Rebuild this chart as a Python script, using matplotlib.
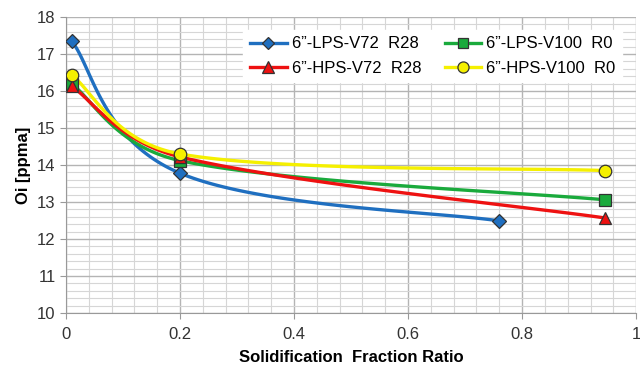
import numpy as np
import matplotlib.pyplot as plt
from matplotlib.ticker import MultipleLocator

plt.rcParams['font.family'] = ['Liberation Sans', 'DejaVu Sans']

# Measured points (solidification fraction ratio vs Oi)
lps72_x = [0.01, 0.2, 0.76]
lps72_y = [17.35, 13.78, 12.49]
lps100_x = [0.01, 0.2, 0.945]
lps100_y = [16.19, 14.12, 13.06]
hps72_x = [0.01, 0.2, 0.945]
hps72_y = [16.13, 14.22, 12.57]
hps100_x = [0.01, 0.2, 0.945]
hps100_y = [16.43, 14.3, 13.85]

labels = ['6\u201d-LPS-V72  R28', '6\u201d-LPS-V100  R0',
          '6\u201d-HPS-V72  R28', '6\u201d-HPS-V100  R0']

# approx. pixels per data unit on screen, smoothing is done in screen space
SX, SY = 570.0, 37.0


def smooth(xs, ys, k=0.19, n=60):
    # Excel style smoothed line: bezier, control arms capped at half a segment
    p = np.column_stack([np.array(xs) * SX, np.array(ys) * SY])
    out = [p[:1]]
    for i in range(len(p) - 1):
        p0 = p[i - 1] if i > 0 else p[i]
        p1 = p[i]
        p2 = p[i + 1]
        p3 = p[i + 2] if i + 2 < len(p) else p[i + 1]
        half = np.hypot(*(p2 - p1)) / 2
        a1 = (p2 - p0) * k
        a2 = (p3 - p1) * k
        if np.hypot(*a1) > half:
            a1 *= half / np.hypot(*a1)
        if np.hypot(*a2) > half:
            a2 *= half / np.hypot(*a2)
        c1 = p1 + a1
        c2 = p2 - a2
        t = np.linspace(0, 1, n)[1:, None]
        seg = ((1 - t) ** 3) * p1 + 3 * ((1 - t) ** 2) * t * c1 + 3 * (1 - t) * t ** 2 * c2 + t ** 3 * p2
        out.append(seg)
    q = np.vstack(out)
    return q[:, 0] / SX, q[:, 1] / SY


fig = plt.figure(figsize=(6.4, 3.7), dpi=100)
ax = fig.add_axes([0.103, 0.154, 0.891, 0.8])

series = [
    (lps72_x, lps72_y, '#1f6fc0', 'D', 7, labels[0]),
    (lps100_x, lps100_y, '#1aaa3c', 's', 8, labels[1]),
    (hps72_x, hps72_y, '#ee1111', '^', 9, labels[2]),
    (hps100_x, hps100_y, '#f5f000', 'o', 9, labels[3]),
]
handles = {}
for xs, ys, col, mk, ms, lab in series:
    sx, sy = smooth(xs, ys)
    ax.plot(sx, sy, color=col, lw=2.4, zorder=3)
    ax.plot(xs, ys, ls='none', marker=mk, ms=ms, mfc=col, mec='#333333', mew=0.9, zorder=4)
    h, = ax.plot([], [], color=col, lw=2.4, marker=mk, ms=ms - 1, mfc=col, mec='#333333', mew=0.9)
    handles[lab] = h

ax.set_xlim(0, 1)
ax.set_ylim(10, 18)
ax.xaxis.set_minor_locator(MultipleLocator(0.04))
ax.yaxis.set_major_locator(MultipleLocator(1))
ax.yaxis.set_minor_locator(MultipleLocator(0.2))
ax.set_xticks([0, 0.2, 0.4, 0.6, 0.8, 1.0])
ax.set_xticklabels(['0', '0.2', '0.4', '0.6', '0.8', '1'])
ax.grid(which='major', color='#b4b4b4', lw=1.0, zorder=0)
ax.grid(which='minor', color='#d6d6d6', lw=0.8, zorder=0)
ax.set_axisbelow(True)
for s in ['top', 'right']:
    ax.spines[s].set_visible(False)
for s in ['left', 'bottom']:
    ax.spines[s].set_color('#999999')
ax.tick_params(which='major', direction='out', length=4, color='#999999',
               labelsize=12, labelcolor='#333333')
ax.tick_params(which='minor', length=0)
ax.tick_params(axis='x', pad=6)

ax.set_xlabel('Solidification  Fraction Ratio', fontsize=12, fontweight='bold', labelpad=6)
ax.set_ylabel('Oi [ppma]', fontsize=12, fontweight='bold', labelpad=4)

# column-wise fill: LPS entries on the top row, HPS below
order = [labels[0], labels[2], labels[1], labels[3]]
leg = ax.legend([handles[l] for l in order], order, ncol=2, loc='upper right',
                bbox_to_anchor=(0.99, 0.985), fontsize=12, frameon=True, fancybox=False,
                edgecolor='white', framealpha=1, handlelength=2.2, handletextpad=0.3,
                columnspacing=1.4, borderpad=0.4, labelspacing=0.55)
leg.set_zorder(5)

fig.savefig('out.png', dpi=100)
